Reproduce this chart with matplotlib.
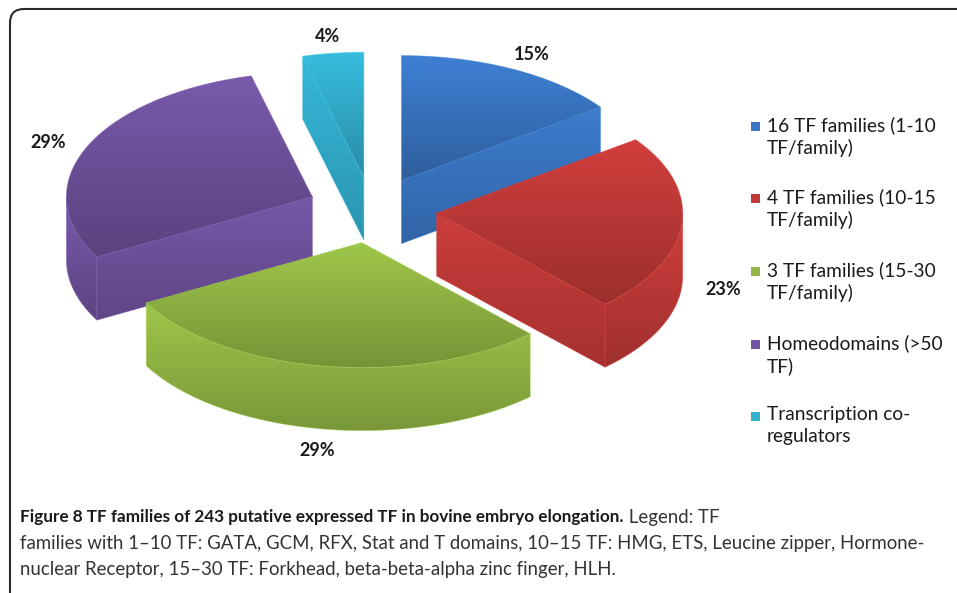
import numpy as np
import matplotlib
matplotlib.use("Agg")
import matplotlib.pyplot as plt
from matplotlib.patches import Polygon, FancyBboxPatch, Rectangle
from matplotlib.colors import LinearSegmentedColormap, to_rgb

# data
values = [15, 23, 29, 29, 4]
pct_labels = ["15%", "23%", "29%", "29%", "4%"]
legend_labels = [
    "16 TF families (1-10\nTF/family)",
    "4 TF families (10-15\nTF/family)",
    "3 TF families (15-30\nTF/family)",
    "Homeodomains (>50\nTF)",
    "Transcription co-\nregulators",
]
colors = ["#3A76C4", "#C23A38", "#93B845", "#71539F", "#33AFCF"]

caption_bold = "Figure 8 TF families of 243 putative expressed TF in bovine embryo elongation."
caption_rest = [
    " Legend: TF",
    "families with 1\u201310 TF: GATA, GCM, RFX, Stat and T domains, 10\u201315 TF: HMG, ETS, Leucine zipper, Hormone-",
    "nuclear Receptor, 15\u201330 TF: Forkhead, beta-beta-alpha zinc finger, HLH.",
]

W, H = 957, 593
fig = plt.figure(figsize=(W / 100, H / 100), dpi=100)
ax = fig.add_axes([0, 0, 1, 1])
ax.set_xlim(0, W)
ax.set_ylim(H, 0)
ax.axis("off")

# pie geometry (pixel units)
cx, cy = 372, 210
rx, ry = 246, 125
depth = 63
explode = 0.264


def shade(c, f):
    r, g, b = to_rgb(c)
    return (min(r * f, 1), min(g * f, 1), min(b * f, 1))


def grad_fill(xs, ys, c1, c2, z):
    poly = Polygon(np.column_stack([xs, ys]), closed=True, facecolor="none",
                   edgecolor="none", zorder=z)
    ax.add_patch(poly)
    cmap = LinearSegmentedColormap.from_list("g", [c1, c2])
    grad = np.linspace(0, 1, 64).reshape(-1, 1)
    im = ax.imshow(grad, cmap=cmap, aspect="auto", origin="upper",
                   extent=(min(xs) - 1, max(xs) + 1, max(ys) + 1, min(ys) - 1),
                   zorder=z, interpolation="bilinear")
    im.set_clip_path(poly)
    ax.plot(np.append(xs, xs[0]), np.append(ys, ys[0]), color=shade(c1, 1.05),
            lw=0.5, alpha=0.6, zorder=z + 0.1)


bounds = 90 - np.concatenate([[0], np.cumsum(values)]) * 360 / sum(values)
slices = []
for i in range(len(values)):
    a0, a1 = bounds[i], bounds[i + 1]
    mid = np.radians((a0 + a1) / 2)
    ox = cx + explode * rx * np.cos(mid)
    oy = cy - explode * ry * np.sin(mid)
    slices.append((i, a0, a1, mid, ox, oy))

order = sorted(slices, key=lambda s: -np.sin(s[3]))
z = 2
for i, a0, a1, mid, ox, oy in order:
    col = colors[i]
    light, dark = shade(col, 1.08), shade(col, 0.80)
    # radial walls
    for a, vis in ((a0, np.cos(np.radians(a0)) < -1e-6), (a1, np.cos(np.radians(a1)) > 1e-6)):
        if vis:
            ex = ox + rx * np.cos(np.radians(a))
            ey = oy - ry * np.sin(np.radians(a))
            xs = np.array([ox, ex, ex, ox])
            ys = np.array([oy, ey, ey + depth, oy + depth])
            grad_fill(xs, ys, shade(col, 1.05), shade(col, 0.85), z)
            z += 1
    # outer wall (front part)
    hi, lo = min(a0, 0), max(a1, -180)
    if hi > lo:
        th = np.radians(np.linspace(hi, lo, 80))
        xt = ox + rx * np.cos(th)
        yt = oy - ry * np.sin(th)
        xs = np.concatenate([xt, xt[::-1]])
        ys = np.concatenate([yt, yt[::-1] + depth])
        grad_fill(xs, ys, light, shade(col, 0.82), z)
        z += 1
    # top face
    th = np.radians(np.linspace(a0, a1, 120))
    xs = np.concatenate([[ox], ox + rx * np.cos(th)])
    ys = np.concatenate([[oy], oy - ry * np.sin(th)])
    grad_fill(xs, ys, light, dark, z)
    z += 1

# percentage labels
for i, a0, a1, mid, ox, oy in slices:
    lx = ox + 1.17 * rx * np.cos(mid)
    ly = oy - 1.17 * ry * np.sin(mid)
    ly += depth if np.sin(mid) < 0 else 4
    ax.text(lx, ly, pct_labels[i], ha="center", va="center", fontsize=13,
            fontweight="bold", family="Lato", color="#1a1a1a", zorder=50)

# legend
leg_y = [127, 199, 272, 345, 417]
for lab, col, y in zip(legend_labels, colors, leg_y):
    ax.add_patch(Rectangle((751, y - 5), 9, 9, facecolor=col, edgecolor="none", zorder=50))
    ax.text(767, y - 11, lab, ha="left", va="top", fontsize=13.8, family="Lato",
            color="#1a1a1a", linespacing=1.33, zorder=50)

# frame
ax.add_patch(FancyBboxPatch((10, 9), 990, 600, boxstyle="round,pad=0,rounding_size=14",
                            facecolor="none", edgecolor="#2b2b2b", lw=1.5, zorder=60))

# caption
fig.canvas.draw()
r = fig.canvas.get_renderer()
t = ax.text(20, 517, caption_bold, ha="left", va="center", fontsize=12.3,
            fontweight="bold", family="Lato", color="#1a1a1a")
bb = t.get_window_extent(renderer=r)
x_end = ax.transData.inverted().transform((bb.x1, bb.y0))[0]
ax.text(x_end, 517, caption_rest[0], ha="left", va="center", fontsize=13.4,
        family="Lato", color="#333333")
ax.text(20, 543, caption_rest[1], ha="left", va="center", fontsize=13.4,
        family="Lato", color="#333333")
ax.text(20, 569, caption_rest[2], ha="left", va="center", fontsize=13.4,
        family="Lato", color="#333333")

fig.savefig("out.png", dpi=100)
